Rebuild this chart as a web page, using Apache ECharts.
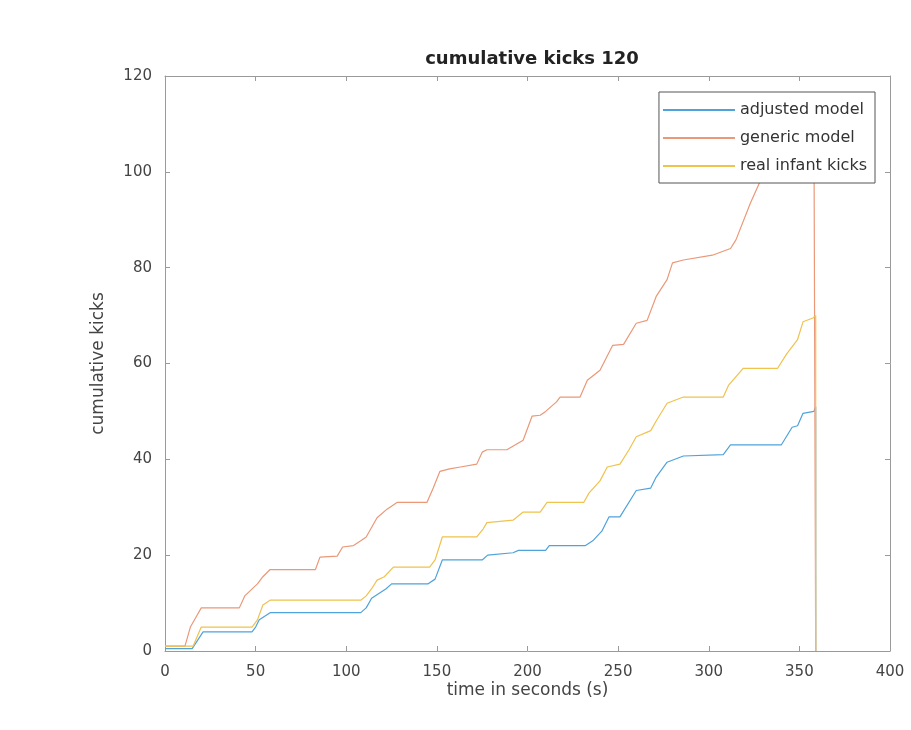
<!DOCTYPE html>
<html><head><meta charset="utf-8">
<script src="https://cdn.jsdelivr.net/npm/echarts@6/dist/echarts.min.js"></script>
<style>html,body{margin:0;padding:0;background:#fff}#c{width:911px;height:730px}</style>
</head><body><div id="c"></div>
<script>
const seriesNames = ['adjusted model', 'generic model', 'real infant kicks'];

const adjustedT = [0, 15, 21, 48, 50, 52, 58, 108, 111, 114, 118, 122, 125, 145, 149, 153, 175, 178, 192, 195, 210, 212, 232, 236, 241, 245, 251, 260, 268, 271, 277, 286, 308, 312, 340, 346, 349, 352, 358, 359, 359];
const adjustedV = [0.5, 0.5, 4, 4, 5, 6.5, 8, 8, 9, 11, 12, 13, 14, 14, 15, 19, 19, 20, 20.5, 21, 21, 22, 22, 23, 25, 28, 28, 33.5, 34, 36.3, 39.4, 40.7, 41, 43, 43, 46.7, 47, 49.6, 50, 51, 0];

const genericT = [0, 11, 14, 17, 20, 41, 44, 51, 54, 58, 83, 85.5, 95, 98, 104, 108, 111, 117, 122.5, 128, 144.5, 148, 151.7, 157, 163, 172, 175, 177.6, 188.6, 197.6, 202.5, 207, 210, 216, 218, 229, 233, 240, 247, 253, 260, 266, 271, 277, 280, 286, 302, 312, 315, 323, 328, 335, 342, 350, 358, 359, 359];
const genericV = [1, 1, 5, 7, 9, 9, 11.5, 14, 15.5, 17, 17, 19.6, 19.8, 21.7, 22, 23, 23.8, 27.8, 29.6, 31, 31, 34, 37.5, 38, 38.4, 39, 41.5, 42, 42, 44, 49, 49.2, 50, 52, 53, 53, 56.5, 58.6, 63.8, 64, 68.4, 69, 74, 77.5, 81, 81.6, 82.6, 84, 85.8, 93.5, 97.7, 102, 106, 110, 114, 114, 0];

const realT = [0, 15.5, 20, 48, 51, 54, 58, 108, 111, 114, 117, 121, 126, 146, 149, 153, 172, 175.6, 177.6, 192, 197.6, 207, 210.8, 231, 234, 240, 244, 251, 256, 260, 268, 271, 277, 286, 308, 311, 319, 338, 343, 349, 352, 357.5, 359, 359];
const realV = [1, 1, 5, 5, 6.5, 9.6, 10.6, 10.6, 11.5, 13, 14.8, 15.5, 17.5, 17.5, 19, 23.8, 23.8, 25.5, 26.8, 27.3, 29, 29, 31, 31, 33, 35.5, 38.4, 39, 42, 44.7, 46, 48, 51.7, 53, 53, 55.5, 59, 59, 62, 65, 68.7, 69.5, 70, 0];

const colors = ['#4fa3da', '#ea9878', '#f0c24e'];

function pairs(t, v) { return t.map((x, i) => [x, v[i]]); }

const font = 'DejaVu Sans, Liberation Sans, sans-serif';
const axisCol = '#9a9a9a';
const labelCol = '#444';

const chart = echarts.init(document.getElementById('c'), null, {renderer: 'canvas'});
const baseX = {
  type: 'value', min: 0, max: 400, interval: 50,
  axisLine: {show: true, onZero: false, lineStyle: {color: axisCol, width: 1}},
  axisTick: {show: true, inside: true, length: 5, lineStyle: {color: axisCol}},
  splitLine: {show: false}
};
const baseY = {
  type: 'value', min: 0, max: 120, interval: 20,
  axisLine: {show: true, onZero: false, lineStyle: {color: axisCol, width: 1}},
  axisTick: {show: true, inside: true, length: 5, lineStyle: {color: axisCol}},
  splitLine: {show: false}
};
chart.setOption({
  animation: false,
  backgroundColor: '#fff',
  title: {
    text: 'cumulative kicks 120', left: 527, top: 45, textAlign: 'center',
    textStyle: {fontFamily: font, fontSize: 18, fontWeight: 'bold', color: '#222'}
  },
  grid: {left: 165, right: 21, top: 76, bottom: 79, containLabel: false},
  legend: {
    orient: 'vertical', right: 36, top: 92,
    itemWidth: 72, itemHeight: 14, itemGap: 12,
    padding: [10, 8, 9, 4],
    icon: 'path://M0,6 L72,6 L72,8 L0,8 Z',
    backgroundColor: '#fff', borderColor: '#555', borderWidth: 1,
    textStyle: {fontFamily: font, fontSize: 16, color: '#333'},
    data: seriesNames.map((n, i) => ({name: n, itemStyle: {color: colors[i], opacity: 1}}))
  },
  xAxis: [
    Object.assign({}, baseX, {
      position: 'bottom', name: 'time in seconds (s)', nameLocation: 'middle', nameGap: 31,
      nameMoveOverlap: false,
      nameTextStyle: {fontFamily: font, fontSize: 17, color: labelCol},
      axisLabel: {fontFamily: font, fontSize: 15, color: labelCol, margin: 14}
    }),
    Object.assign({}, baseX, {position: 'top', axisLabel: {show: false}})
  ],
  yAxis: [
    Object.assign({}, baseY, {
      position: 'left', name: 'cumulative kicks', nameLocation: 'middle', nameGap: 58,
      nameMoveOverlap: false,
      nameTextStyle: {fontFamily: font, fontSize: 17, color: labelCol},
      axisLabel: {fontFamily: font, fontSize: 15, color: labelCol, margin: 13}
    }),
    Object.assign({}, baseY, {position: 'right', axisLabel: {show: false}})
  ],
  series: [
    {name: seriesNames[0], type: 'line', data: pairs(adjustedT, adjustedV), symbol: 'none', color: colors[0], lineStyle: {width: 1.2, color: colors[0]}, clip: true},
    {name: seriesNames[1], type: 'line', data: pairs(genericT, genericV), symbol: 'none', color: colors[1], lineStyle: {width: 1.2, color: colors[1]}, clip: true},
    {name: seriesNames[2], type: 'line', data: pairs(realT, realV), symbol: 'none', color: colors[2], lineStyle: {width: 1.2, color: colors[2]}, clip: true}
  ]
});
</script>
</body></html>
